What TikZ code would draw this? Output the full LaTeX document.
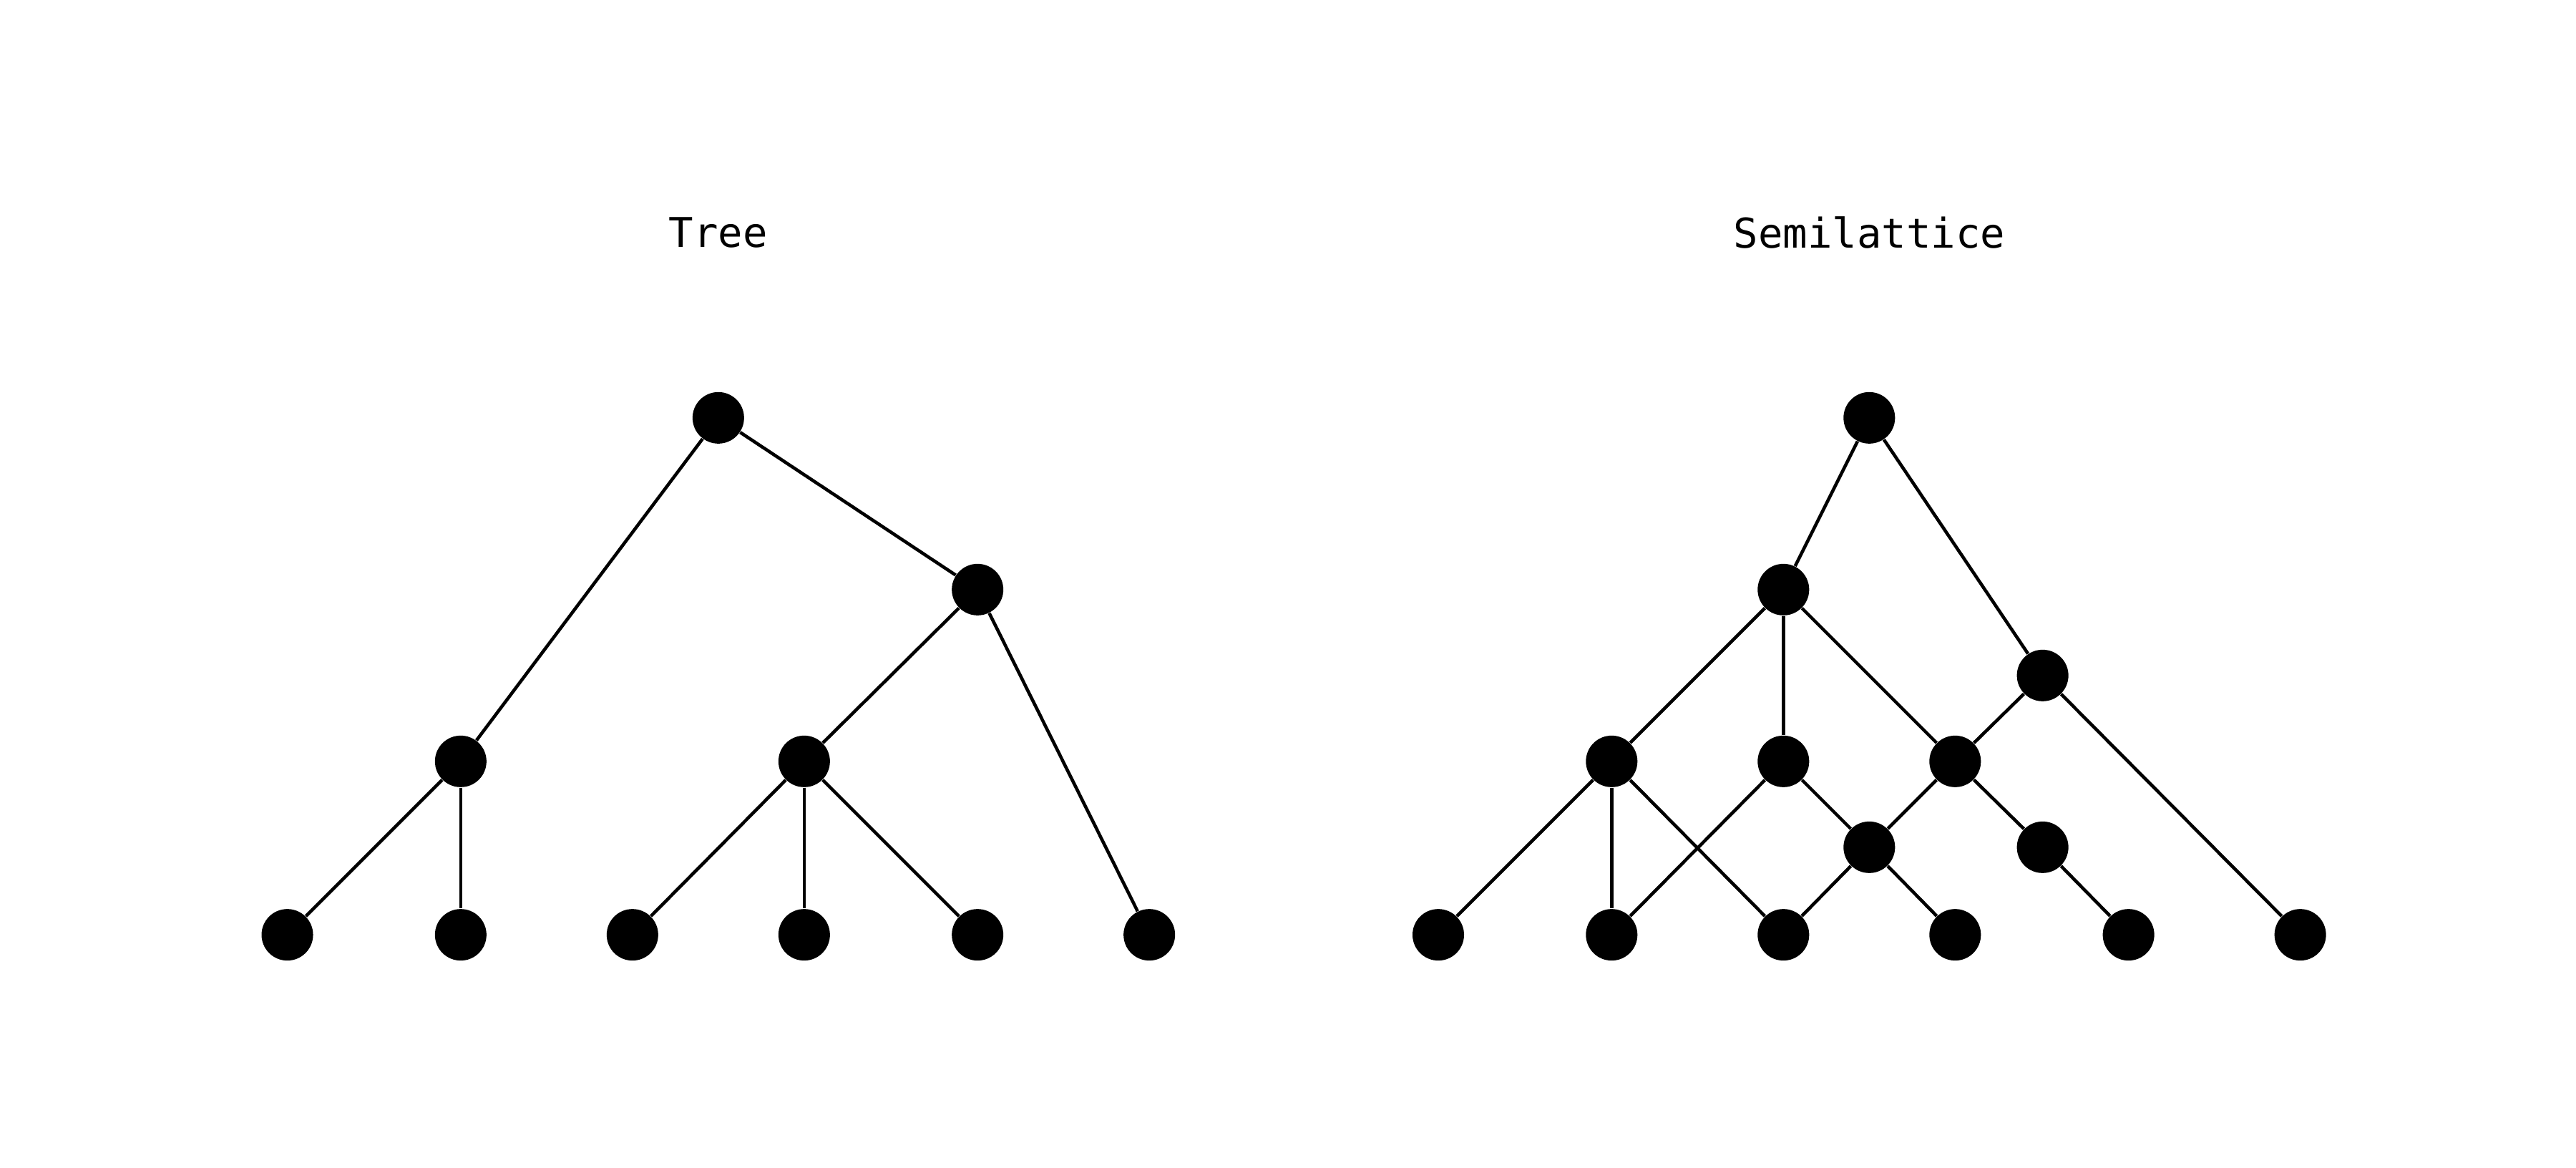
\documentclass[tikz,border=0pt]{standalone}
\usepackage{fontspec}
\setmonofont{DejaVu Sans Mono}
\usepackage{tikz}

\begin{document}
\begin{tikzpicture}[x=0.023077cm, y=-0.023077cm,
    dot/.style={shape=circle,fill=black,inner sep=0pt,minimum size=0.72cm},
    every edge/.style={draw=black, line width=1.3pt}]
    \useasboundingbox (0,0) rectangle (1560,706.8);

    \node[font=\ttfamily\fontsize{16.3}{18}\selectfont] (tt) at (435,141) {Tree};
    \node[font=\ttfamily\fontsize{16.3}{18}\selectfont] (st) at (1132,141) {Semilattice};

    % tree
	\node[dot] (A) at (435,253) {};
    \node[dot] (B) at (592,357) {};
    \node[dot] (C) at (279,461) {};
    \node[dot] (D) at (487,461) {};
    \node[dot] (E) at (174,566) {};
    \node[dot] (F) at (279,566) {};
    \node[dot] (G) at (383,566) {};
    \node[dot] (H) at (487,566) {};
    \node[dot] (I) at (592,566) {};
    \node[dot] (J) at (696,566) {};

    \path (A) edge (B);
    \path (A) edge (C);
    \path (B) edge (D);
    \path (B) edge (J);
    \path (C) edge (E);
    \path (C) edge (F);
    \path (D) edge (G);
    \path (D) edge (H);
    \path (D) edge (I);

    % semilattice
    \node[dot] (S) at (1132,253) {};
    \node[dot] (P) at (1080,357) {};
    \node[dot] (Q) at (1237,409) {};
    \node[dot] (K) at (976,461) {};
    \node[dot] (L) at (1080,461) {};
    \node[dot] (M) at (1184,461) {};
    \node[dot] (N) at (1132,513) {};
    \node[dot] (O) at (1237,513) {};
    \node[dot] (U) at (871,566) {};
    \node[dot] (V) at (976,566) {};
    \node[dot] (W) at (1080,566) {};
    \node[dot] (X) at (1184,566) {};
    \node[dot] (Y) at (1289,566) {};
    \node[dot] (Z) at (1393,566) {};

    \path (S) edge (P);
    \path (S) edge (Q);
    \path (P) edge (K);
    \path (P) edge (L);
    \path (P) edge (M);
    \path (Q) edge (M);
    \path (Q) edge (Z);

    \path (K) edge (U);
    \path (K) edge (V);
    \path (K) edge (W);
    \path (L) edge (V);
    \path (L) edge (N);
    \path (M) edge (N);
    \path (M) edge (O);

    \path (N) edge (W);
    \path (N) edge (X);
    \path (O) edge (Y);

\end{tikzpicture}
\end{document}
